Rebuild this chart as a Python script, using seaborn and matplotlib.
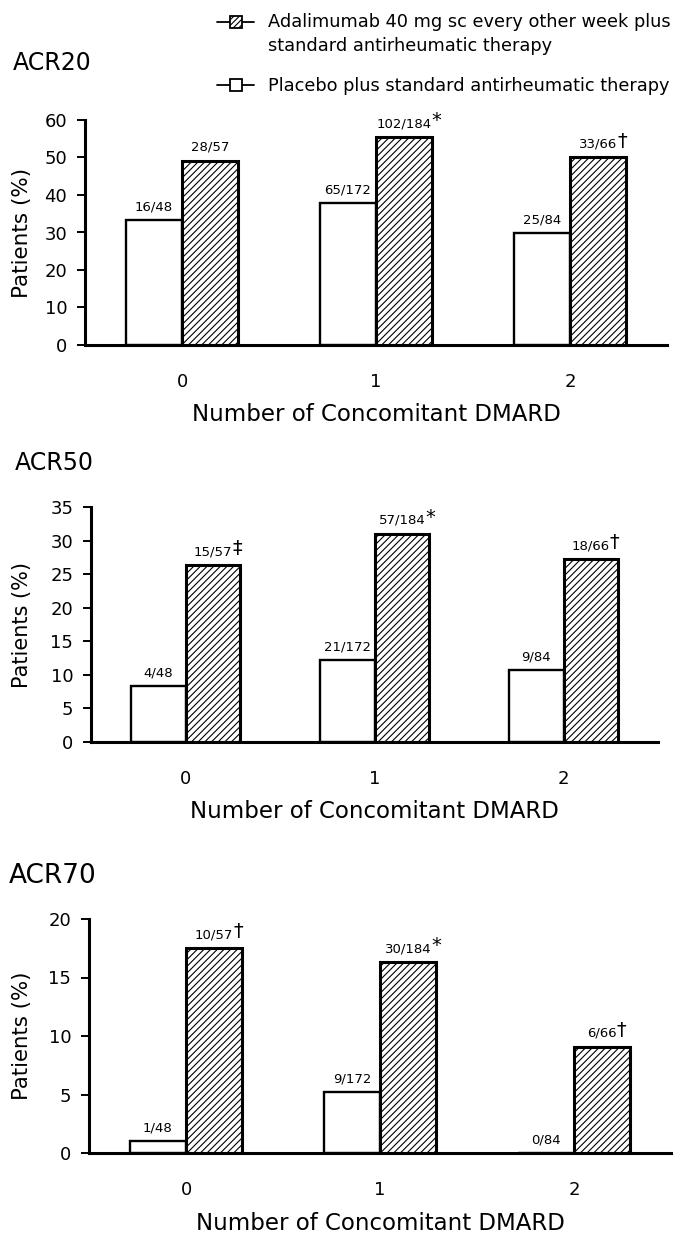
import numpy as np
import pandas as pd
import matplotlib
matplotlib.use("Agg")
import matplotlib.pyplot as plt
import seaborn as sns
from matplotlib.legend_handler import HandlerBase
from matplotlib.lines import Line2D
from matplotlib.patches import Rectangle, Patch

# ---------------- data ----------------
dmard = ["0", "1", "2"]
groups = ["Placebo", "Adalimumab"]

acr20_placebo = [33.3, 37.8, 29.8]
acr20_ada = [49.1, 55.4, 50.0]
acr20_placebo_lbl = ["16/48", "65/172", "25/84"]
acr20_ada_lbl = ["28/57", "102/184", "33/66"]
acr20_ada_sig = ["", "*", "\u2020"]

acr50_placebo = [8.3, 12.2, 10.7]
acr50_ada = [26.3, 31.0, 27.2]
acr50_placebo_lbl = ["4/48", "21/172", "9/84"]
acr50_ada_lbl = ["15/57", "57/184", "18/66"]
acr50_ada_sig = ["\u2021", "*", "\u2020"]

acr70_placebo = [1.0, 5.2, 0.0]
acr70_ada = [17.5, 16.3, 9.1]
acr70_placebo_lbl = ["1/48", "9/172", "0/84"]
acr70_ada_lbl = ["10/57", "30/184", "6/66"]
acr70_ada_sig = ["\u2020", "*", "\u2020"]

titles = ["ACR20", "ACR50", "ACR70"]
y_limits = [60, 35, 20]
y_steps = [10, 5, 5]
legend_labels = ["Adalimumab 40 mg sc every other week plus\nstandard antirheumatic therapy",
                 "Placebo plus standard antirheumatic therapy"]
xlabel_text = "Number of Concomitant DMARD"
ylabel_text = "Patients (%)"

# ---------------- style ----------------
sns.set_style("ticks")
plt.rcParams["font.family"] = ["DejaVu Sans"]
plt.rcParams["hatch.linewidth"] = 0.8
for key in ["text.color", "axes.labelcolor", "xtick.color", "ytick.color",
            "axes.edgecolor"]:
    plt.rcParams[key] = "black"

W, H = 683, 1234
fig = plt.figure(figsize=(W / 100, H / 100), dpi=100)

# axes boxes in pixels: left, right, top, bottom
boxes = [(85, 667, 120, 345), (91, 658, 507, 742), (89, 671, 919, 1153)]
title_pos = [(13, 63, 17), (15, 463, 17), (9, 876, 19)]
ylab_sizes = [15.5, 15, 15.3]

panels = [
    (acr20_placebo, acr20_ada, acr20_placebo_lbl, acr20_ada_lbl, acr20_ada_sig),
    (acr50_placebo, acr50_ada, acr50_placebo_lbl, acr50_ada_lbl, acr50_ada_sig),
    (acr70_placebo, acr70_ada, acr70_placebo_lbl, acr70_ada_lbl, acr70_ada_sig),
]

for i, (pv, av, pl, al, asg) in enumerate(panels):
    l, r, t, b = boxes[i]
    ax = fig.add_axes([l / W, 1 - b / H, (r - l) / W, (b - t) / H])
    df = pd.DataFrame({
        "DMARD": dmard * 2,
        "Group": [groups[0]] * 3 + [groups[1]] * 3,
        "Value": list(pv) + list(av),
    })
    sns.barplot(data=df, x="DMARD", y="Value", hue="Group", order=dmard,
                hue_order=groups, palette={g: "white" for g in groups},
                saturation=1, width=0.58, edgecolor="black", linewidth=1.7,
                errorbar=None, legend=False, ax=ax)
    pbars, abars = ax.containers[0], ax.containers[1]
    for rect in abars:
        rect.set_hatch("/////")
        rect.set_linewidth(2.2)

    for bars, labels, sigs in [(pbars, pl, [""] * 3), (abars, al, asg)]:
        for rect, lab, sig in zip(bars, labels, sigs):
            x = rect.get_x() + rect.get_width() / 2
            y = rect.get_height()
            txt = ax.annotate(lab, (x, y), xytext=(0, 5), textcoords="offset points",
                              ha="center", va="bottom", fontsize=9.5)
            if sig:
                ax.annotate(sig, xy=(1.0, 0.0), xycoords=txt, ha="left", va="bottom",
                            fontsize=14)

    ax.set_xlim(-0.5, 2.5)
    ax.set_ylim(0, y_limits[i])
    ax.set_yticks(np.arange(0, y_limits[i] + 1, y_steps[i]))
    for side in ["top", "right"]:
        ax.spines[side].set_visible(False)
    for side in ["left", "bottom"]:
        ax.spines[side].set_linewidth(2.2)
        ax.spines[side].set_color("black")
    ax.tick_params(axis="y", direction="out", length=5.8, width=1.4, pad=7,
                   labelsize=13, colors="black")
    ax.tick_params(axis="x", length=0, pad=20, labelsize=13, colors="black")

    axw, axh = r - l, b - t
    ax.set_xlabel(xlabel_text, fontsize=16.5, color="black")
    ax.xaxis.label.set_va("center")
    ax.xaxis.set_label_coords(0.5, -70 / axh)
    ax.set_ylabel(ylabel_text, fontsize=ylab_sizes[i], color="black")
    ax.yaxis.label.set_va("center")
    ax.yaxis.set_label_coords((22 - l) / axw, 0.5)

    tx, ty, ts = title_pos[i]
    fig.text(tx / W, 1 - ty / H, titles[i], fontsize=ts, ha="left", va="center",
             color="black")


# ---------------- legend ----------------
class LineBoxHandler(HandlerBase):
    def __init__(self, dy=0.0, **kw):
        super().__init__(**kw)
        self.dy = dy

    def create_artists(self, legend, orig_handle, xdescent, ydescent, width, height,
                       fontsize, trans):
        yc = height / 2 - ydescent + self.dy
        line = Line2D([-xdescent, width - xdescent], [yc, yc], color="black", lw=1.3)
        line.set_transform(trans)
        s = 8.6
        rect = Rectangle((width / 2 - xdescent - s / 2, yc - s / 2), s, s,
                         facecolor="white", edgecolor="black", lw=1.3,
                         hatch=orig_handle.get_hatch())
        rect.set_transform(trans)
        return [line, rect]


leg_fs = 12.8
h_ada = Patch(facecolor="white", edgecolor="black", hatch="//////")
h_pla = Patch(facecolor="white", edgecolor="black")
leg = fig.legend([h_ada, h_pla], legend_labels, loc="upper left",
                 bbox_to_anchor=(217 / W, 1 - 13 / H), frameon=False,
                 fontsize=leg_fs, handlelength=2.1, handletextpad=0.75,
                 borderpad=0, borderaxespad=0, labelspacing=1.25,
                 handler_map={h_ada: LineBoxHandler(dy=leg_fs * 1.4 / 2),
                              h_pla: LineBoxHandler(dy=0.0)})
for t in leg.get_texts():
    t.set_linespacing(1.4)
    t.set_color("black")

fig.savefig("out.png", dpi=100)
